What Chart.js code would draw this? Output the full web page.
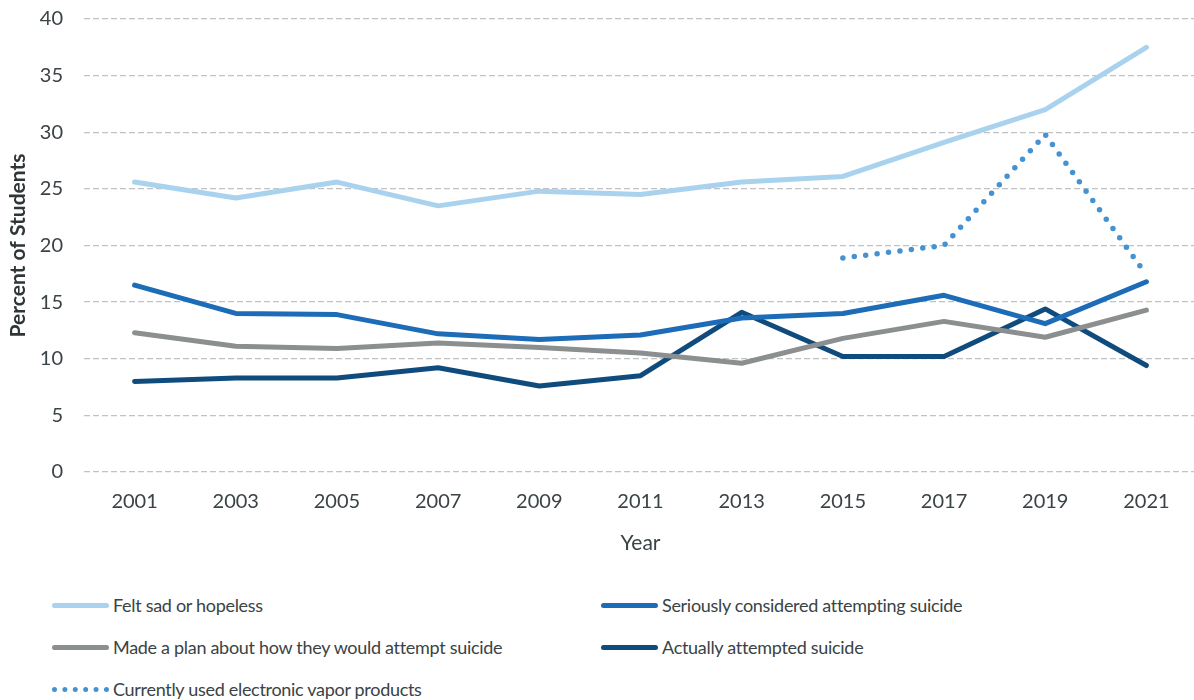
<!DOCTYPE html>
<html>
<head>
<meta charset="utf-8">
<script src="https://cdn.jsdelivr.net/npm/chart.js@4.4.1/dist/chart.umd.min.js"></script>
<style>
  html, body { margin: 0; padding: 0; background: #fff; overflow: hidden; }
  #wrap { position: relative; width: 1197px; height: 574px; margin-top: -14px; }
  #legend { position: absolute; left: 0; top: 585px; width: 1194px; height: 115px;
            font-family: Lato, "Open Sans", sans-serif; font-size: 18px; color: #3a4345;
            letter-spacing: -0.3px; }
  .item { position: absolute; display: flex; align-items: center; white-space: nowrap; }
  .swatch { display: inline-block; width: 57px; margin-right: 4px; }
</style>
</head>
<body>
<div id="wrap"><canvas id="trendChart"></canvas></div>
<div id="legend"></div>
<script>
// Survey years and percentages
const years = ['2001', '2003', '2005', '2007', '2009', '2011', '2013', '2015', '2017', '2019', '2021'];
const sadHopeless = [25.6, 24.2, 25.6, 23.5, 24.8, 24.5, 25.6, 26.1, 29.1, 32.0, 37.5];
const consideredSuicide = [16.5, 14.0, 13.9, 12.2, 11.7, 12.1, 13.6, 14.0, 15.6, 13.1, 16.8];
const madePlan = [12.3, 11.1, 10.9, 11.4, 11.0, 10.5, 9.6, 11.8, 13.3, 11.9, 14.3];
const attemptedSuicide = [8.0, 8.3, 8.3, 9.2, 7.6, 8.5, 14.1, 10.2, 10.2, 14.4, 9.4];
const vaporProducts = [null, null, null, null, null, null, null, 18.9, 20.0, 29.8, 17.4];
const yTicks = [0, 5, 10, 15, 20, 25, 30, 35, 40];

const textColor = '#3a4345';
const fontFamily = 'Lato, "Open Sans", sans-serif';

const series = [
    { label: 'Felt sad or hopeless', data: sadHopeless, color: '#a9d2ee', dotted: false, legend: [0, 0] },
    { label: 'Seriously considered attempting suicide', data: consideredSuicide, color: '#1c6cb7', dotted: false, legend: [1, 0] },
    { label: 'Made a plan about how they would attempt suicide', data: madePlan, color: '#8b8f90', dotted: false, legend: [0, 1] },
    { label: 'Actually attempted suicide', data: attemptedSuicide, color: '#104b7d', dotted: false, legend: [1, 1] },
    { label: 'Currently used electronic vapor products', data: vaporProducts, color: '#4592d3', dotted: true, legend: [0, 2] }
];

const datasets = series.map(s => ({
    label: s.label,
    data: s.data,
    borderColor: s.color,
    backgroundColor: s.color,
    borderWidth: s.dotted ? 5.5 : 5,
    borderDash: s.dotted ? [0, 11.5] : [],
    borderCapStyle: 'round',
    borderJoinStyle: 'round',
    pointRadius: 0,
    tension: 0,
    spanGaps: false,
    fill: false
}));

const ctx = document.getElementById('trendChart').getContext('2d');
const chart = new Chart(ctx, {
    type: 'line',
    data: { labels: years, datasets: datasets },
    options: {
        responsive: true,
        maintainAspectRatio: false,
        animation: false,
        layout: { padding: { top: 4, right: 0, bottom: 0, left: 0 } },
        plugins: {
            legend: { display: false },
            tooltip: { enabled: false }
        },
        scales: {
            x: {
                offset: true,
                grid: { display: false, drawTicks: false },
                border: { display: false },
                ticks: { color: textColor, font: { family: fontFamily, size: 20 }, padding: 18, maxRotation: 0 },
                title: { display: true, text: 'Year', color: textColor, font: { family: fontFamily, size: 21 }, padding: { top: 8 } },
                afterFit: scale => { scale.height = 88; }
            },
            y: {
                min: 0,
                max: 40,
                afterBuildTicks: scale => { scale.ticks = yTicks.map(v => ({ value: v })); },
                grid: { color: 'rgba(120,120,120,0.45)', lineWidth: 1.3, drawTicks: false },
                border: { display: false, dash: [6, 3] },
                ticks: { color: textColor, font: { family: fontFamily, size: 20 }, padding: 21 },
                title: { display: true, text: 'Percent of Students', color: '#2f3638', font: { family: fontFamily, size: 21, weight: 'bold' }, padding: { top: 6, bottom: 2 } },
                afterFit: scale => { scale.width = 84; }
            }
        }
    }
});

// Legend below the plot, two columns
const legendEl = document.getElementById('legend');
const colX = [52, 601];
const rowY = [20, 62, 104];
series.forEach(s => {
    const item = document.createElement('div');
    item.className = 'item';
    item.style.left = colX[s.legend[0]] + 'px';
    item.style.top = (rowY[s.legend[1]] - 12) + 'px';
    item.style.height = '24px';
    const sw = document.createElement('span');
    sw.className = 'swatch';
    if (s.dotted) {
        sw.style.borderTop = '5px dotted ' + s.color;
    } else {
        sw.style.height = '5px';
        sw.style.borderRadius = '3px';
        sw.style.background = s.color;
    }
    const txt = document.createElement('span');
    txt.textContent = s.label;
    item.appendChild(sw);
    item.appendChild(txt);
    legendEl.appendChild(item);
});
</script>
</body>
</html>
